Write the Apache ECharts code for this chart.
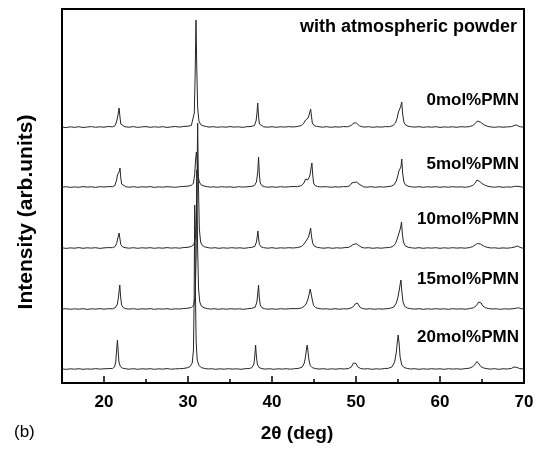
<!DOCTYPE html>
<html>
<head>
<meta charset="utf-8">
<script src="https://cdn.jsdelivr.net/npm/echarts@6/dist/echarts.min.js"></script>
<style>
html,body{margin:0;padding:0;background:#fff;}
#chart{width:542px;height:449px;}
</style>
</head>
<body>
<div id="chart"></div>
<script>
// 2-theta tick values
const majorTicks = [20, 30, 40, 50, 60, 70];
const minorTicks = [25, 35, 45, 55, 65];

// sample names, top to bottom
const sampleNames = ['0mol%PMN', '5mol%PMN', '10mol%PMN', '15mol%PMN', '20mol%PMN'];
// vertical stacking offset of each pattern
const stackOffsets = [255, 195, 134, 73, 13];

// XRD patterns: [2theta (deg), intensity above background]
const pmn0 = [[15,1.0],[15.5,0.4],[16,1.2],[16.5,0.6],[17,1.3],[17.5,0.5],[18,1.0],[18.5,1.4],[19,0.7],[19.5,1.2],[20,0.8],[20.5,1.5],[21,1.2],[21.3,2.2],[21.45,5],[21.6,10],[21.7,12],[21.8,20],[21.9,11],[22.0,4],[22.2,2.0],[22.5,1.2],[23,0.8],[23.5,1.4],[24,0.6],[24.5,1.1],[25,1.4],[25.5,0.7],[26,1.2],[26.5,0.8],[27,1.3],[27.5,0.6],[28,1.1],[28.5,1.5],[29,0.9],[29.5,1.6],[30,1.8],[30.4,2.6],[30.6,4.5],[30.75,15],[30.85,52],[30.95,108],[31.05,58],[31.15,20],[31.3,7],[31.5,3.5],[31.8,2.2],[32.2,1.4],[32.5,0.9],[33,1.3],[33.5,0.7],[34,1.2],[34.5,0.8],[35,1.4],[35.5,0.9],[36,1.2],[36.5,0.6],[37,1.3],[37.5,1.5],[37.9,2.5],[38.1,7],[38.2,14],[38.3,25],[38.4,12],[38.5,4],[38.7,2],[39,1.2],[39.5,0.8],[40,1.3],[40.5,0.7],[41,1.2],[41.5,0.9],[42,1.4],[42.5,1.0],[43,1.5],[43.5,2.5],[43.8,5],[44.0,8],[44.15,8.5],[44.3,10],[44.45,14],[44.6,19],[44.7,12],[44.8,5],[45,2.5],[45.3,1.6],[45.7,1.2],[46,0.8],[46.5,1.3],[47,0.7],[47.5,1.2],[48,0.9],[48.5,1.4],[49,1.2],[49.4,2.5],[49.6,4.5],[49.75,5],[49.9,4],[50.05,5],[50.2,4.2],[50.4,2.2],[50.7,1.3],[51,0.9],[51.5,1.3],[52,0.7],[52.5,1.2],[53,0.9],[53.5,1.4],[54,1.3],[54.4,2.5],[54.7,5],[54.9,10],[55.05,16],[55.2,17],[55.3,21],[55.45,26],[55.55,14],[55.7,6],[55.9,3],[56.2,1.8],[56.6,1.2],[57,0.9],[57.5,1.3],[58,0.7],[58.5,1.2],[59,0.8],[59.5,1.3],[60,0.6],[60.5,1.1],[61,0.8],[61.5,1.2],[62,0.7],[62.5,1.3],[63,1.0],[63.5,1.4],[63.9,2.5],[64.2,4.5],[64.45,7],[64.6,8],[64.8,6],[65.0,4.5],[65.3,2.8],[65.7,1.6],[66,1.1],[66.5,0.7],[67,1.2],[67.5,0.8],[68,1.1],[68.5,1.4],[68.8,2.3],[69.05,3.2],[69.3,2],[69.6,1.2],[70,0.8]];

const pmn5 = [[15,0.8],[15.5,1.3],[16,0.6],[16.5,1.1],[17,0.7],[17.5,1.4],[18,0.9],[18.5,1.2],[19,0.6],[19.5,1.3],[20,1.0],[20.5,1.4],[21,1.3],[21.3,2.5],[21.5,8],[21.6,13],[21.65,15],[21.75,12],[21.85,17],[21.9,20],[22.0,10],[22.1,4],[22.3,2],[22.6,1.2],[23,0.8],[23.5,1.3],[24,0.7],[24.5,1.2],[25,0.9],[25.5,1.4],[26,0.6],[26.5,1.2],[27,0.8],[27.5,1.3],[28,1.0],[28.5,0.7],[29,1.3],[29.5,1.5],[30,1.9],[30.4,2.6],[30.65,5],[30.8,14],[30.9,28],[31.0,36],[31.1,26],[31.2,12],[31.35,6],[31.55,3.2],[31.9,2],[32.3,1.3],[32.7,0.8],[33,1.2],[33.5,0.7],[34,1.3],[34.5,0.9],[35,1.2],[35.5,0.6],[36,1.3],[36.5,0.9],[37,1.2],[37.5,1.6],[37.9,2.4],[38.15,6],[38.3,16],[38.4,31],[38.5,13],[38.6,5],[38.8,2.3],[39.1,1.3],[39.5,0.8],[40,1.2],[40.5,0.7],[41,1.3],[41.5,0.9],[42,1.2],[42.5,1.5],[43,1.3],[43.5,2.4],[43.8,5],[44.0,9],[44.1,11],[44.25,8],[44.35,7],[44.5,12],[44.65,20],[44.75,25],[44.85,13],[44.95,5],[45.1,2.6],[45.4,1.5],[45.8,1.1],[46,0.8],[46.5,1.3],[47,0.7],[47.5,1.2],[48,0.9],[48.5,1.4],[49,1.3],[49.3,2.6],[49.5,5],[49.6,7],[49.75,5.5],[49.9,5],[50.05,6],[50.2,7],[50.35,4],[50.55,2],[50.9,1.2],[51.3,0.8],[51.8,1.3],[52.3,0.7],[52.8,1.2],[53.3,0.9],[53.8,1.4],[54.2,1.8],[54.5,3],[54.8,7],[55.0,13],[55.1,17],[55.25,16],[55.35,21],[55.45,29],[55.55,15],[55.7,6],[55.9,3],[56.2,1.8],[56.6,1.2],[57,0.8],[57.5,1.3],[58,0.7],[58.5,1.2],[59,0.9],[59.5,1.3],[60,0.7],[60.5,1.2],[61,0.8],[61.5,1.3],[62,0.9],[62.5,1.2],[63,0.7],[63.5,1.4],[63.9,2.6],[64.2,5],[64.4,8],[64.5,9],[64.65,7],[64.8,6.5],[65.0,4.5],[65.3,3],[65.7,1.7],[66.1,1.1],[66.5,0.8],[67,1.3],[67.5,0.7],[68,1.1],[68.5,0.8],[68.9,1.7],[69.1,2.4],[69.4,1.6],[69.7,1],[70,0.7]];

const pmn10 = [[15,1.2],[15.5,0.6],[16,1.1],[16.5,0.8],[17,1.4],[17.5,0.7],[18,1.2],[18.5,0.9],[19,1.3],[19.5,0.6],[20,1.1],[20.5,1.4],[21,1.3],[21.3,2.3],[21.5,5.5],[21.65,11],[21.8,16],[21.9,10],[22.0,4.5],[22.2,2.2],[22.5,1.3],[23,0.8],[23.5,1.3],[24,0.7],[24.5,1.2],[25,0.9],[25.5,1.3],[26,0.7],[26.5,1.2],[27,0.8],[27.5,1.4],[28,0.9],[28.5,1.2],[29,0.8],[29.5,1.5],[30,1.7],[30.4,2.6],[30.7,4.5],[30.9,12],[31.05,50],[31.15,126],[31.25,60],[31.35,20],[31.5,7],[31.7,3.5],[32.0,2.1],[32.4,1.3],[32.8,0.9],[33.2,1.3],[33.7,0.7],[34.2,1.2],[34.7,0.8],[35.2,1.3],[35.7,0.9],[36.2,1.2],[36.7,0.7],[37.2,1.3],[37.6,1.7],[37.95,2.6],[38.15,7],[38.25,13],[38.32,18],[38.4,11],[38.5,4.5],[38.7,2.2],[39,1.3],[39.5,0.8],[40,1.3],[40.5,0.7],[41,1.2],[41.5,0.9],[42,1.3],[42.5,1.0],[43,1.4],[43.5,2.5],[43.8,5],[44.05,8],[44.2,9],[44.35,12],[44.5,17],[44.6,21],[44.7,13],[44.85,5.5],[45.05,2.8],[45.4,1.6],[45.8,1.1],[46.2,0.8],[46.7,1.3],[47.2,0.7],[47.7,1.2],[48.2,0.9],[48.7,1.4],[49.1,1.6],[49.4,2.8],[49.65,4.5],[49.85,5],[50.05,5.2],[50.25,4.5],[50.45,2.8],[50.7,1.6],[51,1.0],[51.5,1.3],[52,0.7],[52.5,1.2],[53,0.8],[53.5,1.3],[54,1.5],[54.4,2.6],[54.7,5.5],[54.9,10],[55.05,14],[55.2,18],[55.32,22],[55.42,27],[55.52,15],[55.65,7],[55.85,3.2],[56.2,1.8],[56.6,1.2],[57,0.8],[57.5,1.3],[58,0.7],[58.5,1.2],[59,0.9],[59.5,1.3],[60,0.7],[60.5,1.2],[61,0.8],[61.5,1.3],[62,0.9],[62.5,1.2],[63,0.8],[63.5,1.4],[63.9,2.4],[64.2,4.2],[64.45,5.5],[64.6,6],[64.8,5],[65.0,3.8],[65.3,2.5],[65.7,1.5],[66.1,1.0],[66.5,1.2],[67,0.7],[67.5,1.1],[68,0.8],[68.5,1.3],[68.9,2.0],[69.2,3],[69.4,1.8],[69.7,1.1],[70,0.8]];

const pmn15 = [[15,0.9],[15.5,1.3],[16,0.7],[16.5,1.2],[17,0.8],[17.5,1.3],[18,0.6],[18.5,1.2],[19,0.9],[19.5,1.4],[20,0.8],[20.5,1.3],[21,1.2],[21.35,2.4],[21.6,6],[21.75,15],[21.88,25],[21.98,13],[22.1,5],[22.3,2.3],[22.6,1.3],[23,0.9],[23.5,1.3],[24,0.7],[24.5,1.2],[25,0.9],[25.5,1.4],[26,0.7],[26.5,1.2],[27,0.9],[27.5,1.3],[28,0.7],[28.5,1.2],[29,1.0],[29.5,1.5],[30,1.8],[30.4,2.6],[30.65,4.5],[30.85,13],[30.97,55],[31.05,140],[31.14,65],[31.25,22],[31.4,8],[31.6,3.8],[31.9,2.2],[32.3,1.4],[32.7,0.9],[33.1,1.3],[33.6,0.7],[34.1,1.2],[34.6,0.8],[35.1,1.3],[35.6,0.9],[36.1,1.2],[36.6,0.7],[37.1,1.3],[37.6,1.7],[38.0,2.8],[38.2,8],[38.3,16],[38.4,25],[38.48,13],[38.6,5],[38.8,2.3],[39.1,1.3],[39.5,0.8],[40,1.2],[40.5,0.7],[41,1.3],[41.5,0.9],[42,1.2],[42.5,1.4],[43,1.3],[43.5,2.0],[43.8,3.5],[44.05,6],[44.25,10],[44.4,15],[44.55,21],[44.68,19],[44.8,10],[44.95,4.5],[45.2,2.4],[45.6,1.4],[46,1.0],[46.5,1.2],[47,0.7],[47.5,1.3],[48,0.8],[48.5,1.2],[49,1.1],[49.4,2.0],[49.7,3.5],[49.9,6],[50.05,6.5],[50.15,7],[50.3,5],[50.5,2.6],[50.8,1.4],[51.2,0.9],[51.7,1.3],[52.2,0.7],[52.7,1.2],[53.2,0.9],[53.7,1.4],[54.1,1.8],[54.5,3],[54.8,7],[55.0,13],[55.15,20],[55.28,27],[55.35,30],[55.45,19],[55.6,8],[55.8,3.5],[56.1,2],[56.5,1.3],[57,0.9],[57.5,1.3],[58,0.7],[58.5,1.2],[59,0.8],[59.5,1.3],[60,0.9],[60.5,1.2],[61,0.7],[61.5,1.3],[62,0.9],[62.5,1.2],[63,0.8],[63.5,1.3],[64.0,2.3],[64.35,4.5],[64.6,8],[64.75,10],[64.9,7],[65.1,4],[65.4,2.3],[65.8,1.4],[66.2,1.0],[66.7,1.2],[67.2,0.7],[67.7,1.2],[68.2,0.9],[68.7,1.3],[69.1,1.8],[69.35,2.2],[69.7,1.3],[70,0.9]];

const pmn20 = [[15,1.1],[15.5,0.6],[16,1.2],[16.5,0.8],[17,1.3],[17.5,0.7],[18,1.1],[18.5,0.8],[19,1.4],[19.5,0.9],[20,1.2],[20.5,1.4],[21,1.5],[21.25,3],[21.4,8],[21.52,22],[21.6,30],[21.68,20],[21.78,8],[21.95,3.5],[22.2,1.9],[22.6,1.2],[23,0.8],[23.5,1.3],[24,0.7],[24.5,1.2],[25,0.9],[25.5,1.3],[26,0.7],[26.5,1.2],[27,0.9],[27.5,1.4],[28,0.8],[28.5,1.2],[29,1.3],[29.5,1.6],[29.9,2.2],[30.25,3.5],[30.5,7],[30.65,20],[30.73,70],[30.8,165],[30.88,80],[30.97,28],[31.1,10],[31.3,4.5],[31.6,2.4],[32,1.5],[32.4,1.0],[32.8,1.3],[33.3,0.7],[33.8,1.2],[34.3,0.8],[34.8,1.3],[35.3,0.9],[35.8,1.2],[36.3,0.7],[36.8,1.3],[37.3,1.5],[37.6,2.3],[37.85,6],[37.95,14],[38.05,25],[38.13,15],[38.25,6],[38.45,2.5],[38.8,1.4],[39.2,0.9],[39.7,1.3],[40.2,0.7],[40.7,1.2],[41.2,0.9],[41.7,1.3],[42.2,0.8],[42.7,1.3],[43.2,1.7],[43.6,3],[43.85,7],[44.0,14],[44.12,22],[44.2,25],[44.28,19],[44.4,10],[44.55,4.5],[44.8,2.3],[45.2,1.4],[45.6,0.9],[46.1,1.3],[46.6,0.7],[47.1,1.2],[47.6,0.8],[48.1,1.3],[48.6,1.0],[49.1,1.5],[49.45,3],[49.7,7],[49.85,9],[50.0,6.5],[50.2,3.2],[50.5,1.7],[50.9,1.0],[51.4,1.3],[51.9,0.7],[52.4,1.2],[52.9,0.9],[53.4,1.4],[53.9,1.8],[54.3,3.2],[54.6,8],[54.8,18],[54.92,28],[55.02,35],[55.12,28],[55.25,13],[55.45,5],[55.7,2.6],[56.1,1.5],[56.5,1.0],[57,1.3],[57.5,0.7],[58,1.2],[58.5,0.8],[59,1.3],[59.5,0.9],[60,1.2],[60.5,0.7],[61,1.3],[61.5,0.9],[62,1.2],[62.5,0.8],[63,1.4],[63.5,1.8],[63.9,3.3],[64.2,6],[64.4,8.5],[64.5,9],[64.65,6],[64.85,3.5],[65.2,2],[65.6,1.3],[66,0.9],[66.5,1.3],[67,0.7],[67.5,1.2],[68,1.0],[68.5,1.6],[68.8,3],[68.95,4],[69.15,2.6],[69.5,1.4],[70,1]];

const patterns = [pmn0, pmn5, pmn10, pmn15, pmn20];

const FONT = '"Liberation Sans", Arial, Helvetica, sans-serif';
const chart = echarts.init(document.getElementById('chart'), null, {renderer: 'canvas'});

const series = patterns.map((pts, i) => ({
  name: sampleNames[i],
  type: 'line',
  showSymbol: false,
  symbol: 'none',
  smooth: false,
  lineStyle: {color: '#262626', width: 1},
  data: pts.map(p => [p[0], p[1] + stackOffsets[i]]),
  z: 2
}));

// right-aligned sample labels beside each pattern
const labelY = [102, 166, 221, 281, 339];
const sampleLabels = sampleNames.map((s, i) => ({
  type: 'text',
  right: 23,
  top: labelY[i] - 10,
  style: {text: s, font: 'bold 17px ' + FONT, fill: '#000'}
}));

chart.setOption({
  animation: false,
  backgroundColor: '#fff',
  grid: {left: 62, right: 18, top: 9, bottom: 66, show: true, borderColor: '#000', borderWidth: 2, backgroundColor: 'transparent'},
  xAxis: [
    {
      type: 'value', min: 15, max: 70, position: 'bottom',
      axisLine: {show: false},
      splitLine: {show: false},
      axisTick: {show: true, inside: true, length: 7, customValues: majorTicks, lineStyle: {color: '#000', width: 1.5}},
      axisLabel: {show: true, customValues: majorTicks, margin: 11, color: '#000', fontFamily: FONT, fontWeight: 'bold', fontSize: 17}
    },
    {
      type: 'value', min: 15, max: 70, position: 'bottom',
      axisLine: {show: false},
      splitLine: {show: false},
      axisTick: {show: true, inside: true, length: 4, customValues: minorTicks, lineStyle: {color: '#000', width: 1.5}},
      axisLabel: {show: false}
    }
  ],
  yAxis: {
    type: 'value', min: 0, max: 374,
    axisLine: {show: false}, axisTick: {show: false}, axisLabel: {show: false}, splitLine: {show: false}
  },
  series: series,
  graphic: [
    {type: 'text', right: 25, top: 18, style: {text: 'with atmospheric powder', font: 'bold 18px ' + FONT, fill: '#000'}},
    ...sampleLabels,
    {type: 'text', left: 14, top: 424, style: {text: '(b)', font: '17px ' + FONT, fill: '#000'}},
    {type: 'text', x: 297, y: 434, style: {text: '2θ (deg)', font: 'bold 19px ' + FONT, fill: '#000', textAlign: 'center', textVerticalAlign: 'middle'}},
    {type: 'text', x: 26, y: 212, rotation: Math.PI / 2, style: {text: 'Intensity (arb.units)', font: 'bold 21px ' + FONT, fill: '#000', textAlign: 'center', textVerticalAlign: 'middle'}}
  ]
});
</script>
</body>
</html>
